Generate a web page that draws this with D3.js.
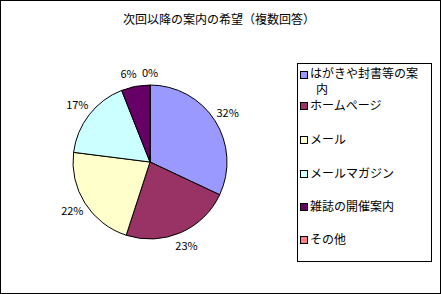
<!DOCTYPE html>
<html><head><meta charset="utf-8">
<script src="https://cdn.jsdelivr.net/npm/d3@7"></script>
<style>body{margin:0;background:#fff}svg{display:block}text{font-family:"Noto Sans CJK JP","Noto Sans",sans-serif}</style>
</head><body>
<script>
const categories = ["はがきや封書等の案内","ホームページ","メール","メールマガジン","雑誌の開催案内","その他"];
const values = [32,23,22,17,6,0];
const colors = ["#9999FF","#993366","#FFFFCC","#CCFFFF","#660066","#FF8080"];
const title = "次回以降の案内の希望（複数回答）";

const W=441,H=294;
const svg=d3.select("body").append("svg").attr("width",W).attr("height",H);
svg.append("rect").attr("x",0.5).attr("y",0.5).attr("width",W-1).attr("height",H-1).attr("fill","#fff").attr("stroke","#000");
svg.append("text").attr("x",219).attr("y",24).attr("text-anchor","middle").attr("font-size",12).text(title);

const cx=150,cy=162,r=77;
const pie=d3.pie().sort(null).value(d=>d)(values);
const arc=d3.arc().innerRadius(0).outerRadius(r);
const g=svg.append("g").attr("transform",`translate(${cx},${cy})`);
g.selectAll("path").data(pie).join("path").attr("d",arc)
 .attr("fill",(d,i)=>colors[i]).attr("stroke","#000").attr("stroke-width",1);
const lab=d3.arc().innerRadius(92).outerRadius(92);
g.selectAll("text").data(pie).join("text")
 .attr("transform",d=>{const c=lab.centroid(d);const small=d.data<10&&c[0]<-5;return `translate(${c[0]+(small?4:0)},${c[1]+(d.data<10?3:0)})`;})
 .attr("text-anchor",d=>{const c=lab.centroid(d);return (d.data<10&&c[0]<-5)?"end":"middle";})
 .attr("dy","0.35em").attr("font-size",11)
 .text(d=>d.data+"%");

// legend
svg.append("rect").attr("x",297.5).attr("y",63.5).attr("width",134).attr("height",198).attr("fill","#fff").attr("stroke","#000");
const ys=[75,106,140,174,207,240];
const lg=svg.append("g");
categories.forEach((c,i)=>{
  lg.append("rect").attr("x",300.5).attr("y",ys[i]-3.5).attr("width",7).attr("height",7).attr("fill",colors[i]).attr("stroke","#000");
  if(i===0){
    lg.append("text").attr("x",310).attr("y",ys[i]-1).attr("dy","0.35em").attr("font-size",12).text(c.slice(0,9));
    lg.append("text").attr("x",316).attr("y",ys[i]+15).attr("dy","0.35em").attr("font-size",12).text(c.slice(9));
  } else {
    lg.append("text").attr("x",310).attr("y",ys[i]).attr("dy","0.35em").attr("font-size",12).text(c);
  }
});
</script>
</body></html>
